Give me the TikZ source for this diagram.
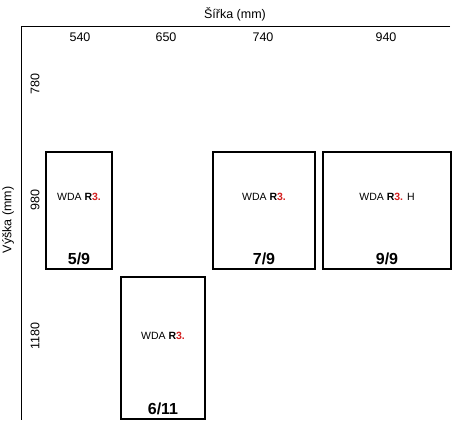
\documentclass[tikz,border=0pt]{standalone}
\usepackage{fontspec}
\setmainfont{Liberation Sans}
\usepackage{xcolor}
\usetikzlibrary{positioning}
\definecolor{wdared}{HTML}{D42020}
\tikzstyle{window} = [rectangle, draw=black, line width=2pt, fill=white, inner sep=0pt]
\tikzstyle{axis} = [draw=black, line width=1pt]
\tikzstyle{dim} = [font=\fontsize{12.5}{14}\selectfont, inner sep=0pt]
\tikzstyle{ratio} = [font=\fontsize{16}{18}\selectfont\bfseries, inner sep=0pt]
\tikzstyle{wda} = [font=\fontsize{10.5}{12}\selectfont, inner sep=0pt]
\newcommand{\wdalabel}{WDA \textbf{R\textcolor{wdared}{3.}}}

\begin{document}
\begin{tikzpicture}[x=1pt, y=-1pt]
    \useasboundingbox (0,0) rectangle (458,429);
    % axes
    \coordinate (origin) at (21,26);
    \coordinate (xend) at (450,26);
    \coordinate (yend) at (21,420);
    \draw[axis] (xend)--(origin)--(yend);
    \node (xtitle) [dim] at (235,14) {Šířka (mm)};
    \node (ytitle) [dim, rotate=90] at (8,220) {Výška (mm)};
    % widths
    \node (w540) [dim] at (80,37) {540};
    \node (w650) [dim] at (166,37) {650};
    \node (w740) [dim] at (263,37) {740};
    \node (w940) [dim] at (386,37) {940};
    % heights
    \node (h780) [dim, rotate=90] at (35,84) {780};
    \node (h980) [dim, rotate=90] at (35,200) {980};
    \node (h1180) [dim, rotate=90] at (35,336) {1180};
    % windows
    \node (win59) [window, minimum width=66pt, minimum height=117pt] at (79,210.5) {};
    \node (win611) [window, minimum width=84pt, minimum height=142pt] at (163,348) {};
    \node (win79) [window, minimum width=102pt, minimum height=117pt] at (264,210.5) {};
    \node (win99) [window, minimum width=128pt, minimum height=117pt] at (387,210.5) {};
    \node (t59) [wda] at (79,197) {\wdalabel};
    \node (t611) [wda] at (163,336) {\wdalabel};
    \node (t79) [wda] at (264,197) {\wdalabel};
    \node (t99) [wda] at (387,197) {\wdalabel{} H};
    \node (r59) [ratio, above=5pt of win59.south] {5/9};
    \node (r611) [ratio, above=5pt of win611.south] {6/11};
    \node (r79) [ratio, above=5pt of win79.south] {7/9};
    \node (r99) [ratio, above=5pt of win99.south] {9/9};
\end{tikzpicture}
\end{document}
